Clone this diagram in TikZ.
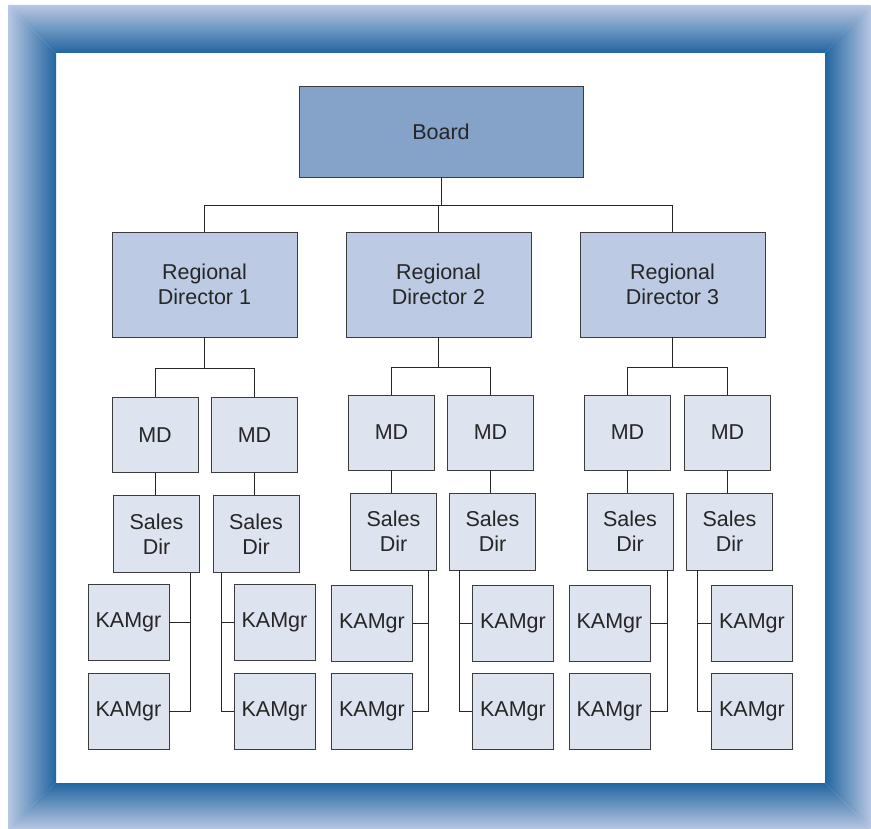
\documentclass[tikz,border=0pt]{standalone}
\usepackage{fontspec}
\setmainfont{Liberation Sans}
\definecolor{FrameLight}{HTML}{B8C7E2}
\definecolor{FrameDark}{HTML}{2266A0}
\definecolor{BoardBlue}{HTML}{85A3C9}
\definecolor{RegionBlue}{HTML}{BCCBE3}
\definecolor{UnitBlue}{HTML}{DDE3EF}
\definecolor{EdgeGray}{HTML}{3C3C3C}

\begin{document}
\begin{tikzpicture}[x=1pt, y=-1pt,
    box/.style={draw=EdgeGray, line width=0.9pt, align=center, inner sep=0pt,
        font=\fontsize{21.5}{25}\selectfont, text=black!85},
    boardbox/.style={box, fill=BoardBlue, minimum width=284pt, minimum height=91pt},
    regionbox/.style={box, fill=RegionBlue, minimum width=185pt, minimum height=105pt},
    mdbox/.style={box, fill=UnitBlue, minimum width=86pt, minimum height=75pt},
    sdbox/.style={box, fill=UnitBlue, minimum width=86pt, minimum height=77pt},
    kambox/.style={box, fill=UnitBlue, minimum width=81pt, minimum height=76pt},
    link/.style={draw=black!85, line width=0.9pt}]

    \useasboundingbox (0,0) rectangle (871,829);

    % ========== Bevelled frame ==========
    \shade[top color=FrameLight, bottom color=FrameDark]
        (8,5) -- (871,5) -- (825,53) -- (56,53) -- cycle;
    \shade[left color=FrameLight, right color=FrameDark]
        (8,5) -- (56,53) -- (56,783) -- (8,829) -- cycle;
    \shade[left color=FrameDark, right color=FrameLight]
        (871,5) -- (871,829) -- (825,783) -- (825,53) -- cycle;
    \shade[top color=FrameDark, bottom color=FrameLight]
        (8,829) -- (56,783) -- (825,783) -- (871,829) -- cycle;

    % ========== Top level ==========
    \node[boardbox] (board) at (441,131.5) {Board};
    \node[regionbox] (rd1) at (204.5,284.5) {Regional\\Director 1};
    \node[regionbox] (rd2) at (438.5,284.5) {Regional\\Director 2};
    \node[regionbox] (rd3) at (672.5,284.5) {Regional\\Director 3};

    \draw[link] (board.south) -- ++(0,28) -| (rd1.north);
    \draw[link] (board.south) -- ++(0,28) -| (rd2.north);
    \draw[link] (board.south) -- ++(0,28) -| (rd3.north);

    % ========== Region 1 ==========
    \node[mdbox] (md11) at (155,435) {MD};
    \node[mdbox] (md12) at (254.5,435) {MD};
    \node[sdbox] (sd11) at (156.5,534) {Sales\\Dir};
    \node[sdbox] (sd12) at (256,534) {Sales\\Dir};
    \node[kambox] (ka111) at (128.5,622.5) {KAMgr};
    \node[kambox] (ka112) at (128.5,711.5) {KAMgr};
    \node[kambox] (ka121) at (274.5,622.5) {KAMgr};
    \node[kambox] (ka122) at (274.5,711.5) {KAMgr};

    \draw[link] (rd1.south) -- ++(0,31) -| (md11.north);
    \draw[link] (rd1.south) -- ++(0,31) -| (md12.north);
    \draw[link] (md11.south) -- (md11.south |- sd11.north);
    \draw[link] (md12.south) -- (md12.south |- sd12.north);
    \draw[link] ([xshift=34pt]sd11.south) |- (ka111.east);
    \draw[link] ([xshift=34pt]sd11.south) |- (ka112.east);
    \draw[link] ([xshift=-35pt]sd12.south) |- (ka121.west);
    \draw[link] ([xshift=-35pt]sd12.south) |- (ka122.west);

    % ========== Region 2 ==========
    \node[mdbox] (md21) at (391.5,432.5) {MD};
    \node[mdbox] (md22) at (490.5,432.5) {MD};
    \node[sdbox] (sd21) at (393.5,531.5) {Sales\\Dir};
    \node[sdbox] (sd22) at (492.5,531.5) {Sales\\Dir};
    \node[kambox] (ka211) at (372,623) {KAMgr};
    \node[kambox] (ka212) at (372,711) {KAMgr};
    \node[kambox] (ka221) at (513,623) {KAMgr};
    \node[kambox] (ka222) at (513,711) {KAMgr};

    \draw[link] (rd2.south) -- ++(0,30) -| (md21.north);
    \draw[link] (rd2.south) -- ++(0,30) -| (md22.north);
    \draw[link] (md21.south) -- (md21.south |- sd21.north);
    \draw[link] (md22.south) -- (md22.south |- sd22.north);
    \draw[link] ([xshift=34.5pt]sd21.south) |- (ka211.east);
    \draw[link] ([xshift=34.5pt]sd21.south) |- (ka212.east);
    \draw[link] ([xshift=-33.5pt]sd22.south) |- (ka221.west);
    \draw[link] ([xshift=-33.5pt]sd22.south) |- (ka222.west);

    % ========== Region 3 ==========
    \node[mdbox] (md31) at (627.5,432.5) {MD};
    \node[mdbox] (md32) at (727.5,432.5) {MD};
    \node[sdbox] (sd31) at (630,531.5) {Sales\\Dir};
    \node[sdbox] (sd32) at (729.5,531.5) {Sales\\Dir};
    \node[kambox] (ka311) at (609.5,623) {KAMgr};
    \node[kambox] (ka312) at (609.5,711) {KAMgr};
    \node[kambox] (ka321) at (752,623) {KAMgr};
    \node[kambox] (ka322) at (752,711) {KAMgr};

    \draw[link] (rd3.south) -- ++(0,30) -| (md31.north);
    \draw[link] (rd3.south) -- ++(0,30) -| (md32.north);
    \draw[link] (md31.south) -- (md31.south |- sd31.north);
    \draw[link] (md32.south) -- (md32.south |- sd32.north);
    \draw[link] ([xshift=37pt]sd31.south) |- (ka311.east);
    \draw[link] ([xshift=37pt]sd31.south) |- (ka312.east);
    \draw[link] ([xshift=-32.5pt]sd32.south) |- (ka321.west);
    \draw[link] ([xshift=-32.5pt]sd32.south) |- (ka322.west);

\end{tikzpicture}
\end{document}
